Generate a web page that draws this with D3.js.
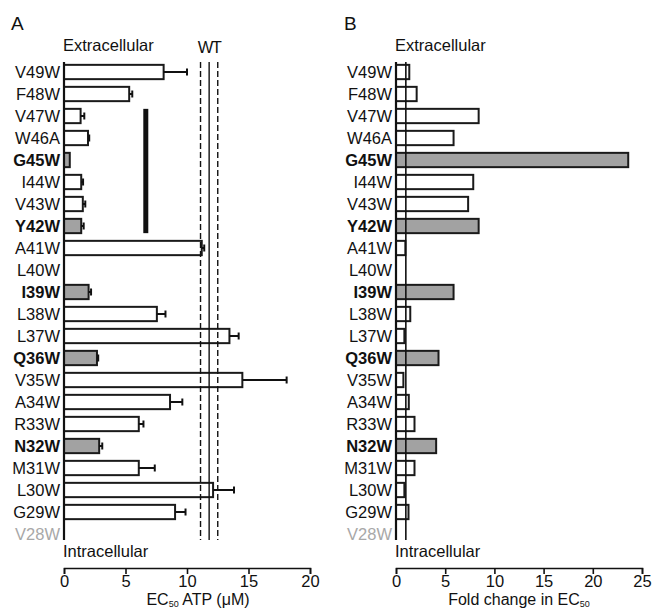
<!DOCTYPE html>
<html lang="en">

<head>
    <meta charset="utf-8">
    <title>tryptophan scan</title>
    <script src="https://cdn.jsdelivr.net/npm/d3@7"></script>
    <style>
        body {
            margin: 0;
            background: #fff;
        }

        svg text {
            font-family: "Liberation Sans", Arial, sans-serif;
            fill: #111;
        }

        .axis path,
        .axis line {
            stroke: #111;
            stroke-width: 1.6;
        }

        .axis text {
            font-size: 16.5px;
            font-family: "Liberation Sans", Arial, sans-serif;
        }
    </style>
</head>

<body>
    <div id="chart"></div>
    <script>
        // residues, top (extracellular) to bottom (intracellular)
        var residues = ["V49W", "F48W", "V47W", "W46A", "G45W", "I44W", "V43W", "Y42W", "A41W", "L40W", "I39W",
            "L38W", "L37W", "Q36W", "V35W", "A34W", "R33W", "N32W", "M31W", "L30W", "G29W", "V28W"];
        // EC50 ATP (uM), null = no response
        var ec50 = [8.1, 5.3, 1.35, 1.95, 0.47, 1.4, 1.53, 1.4, 11.2, null, 2.0,
            7.55, 13.45, 2.68, 14.5, 8.62, 6.08, 2.86, 6.08, 12.12, 9.03, null];
        var ec50Err = [1.9, 0.25, 0.3, 0.1, 0, 0.15, 0.2, 0.2, 0.2, null, 0.2,
            0.7, 0.75, 0.1, 3.6, 1.0, 0.38, 0.25, 1.3, 1.7, 0.85, null];
        // fold change in EC50
        var foldChange = [1.35, 2.1, 8.4, 5.85, 23.6, 7.85, 7.33, 8.4, 0.95, null, 5.85,
            1.45, 0.85, 4.32, 0.75, 1.3, 1.88, 4.08, 1.88, 0.85, 1.27, null];
        var highlighted = ["G45W", "Y42W", "I39W", "Q36W", "N32W"];
        var notFunctional = ["V28W"];
        var helixSpan = ["V47W", "Y42W"];
        var helixAt = 6.65;
        var wt = 11.8, wtErr = 0.7;
        var ticksA = [0, 5, 10, 15, 20];
        var ticksB = [0, 5, 10, 15, 20, 25];

        var width = 653, height = 610;
        var yTop = 62, yBottom = 540, axisY = 568;

        var svg = d3.select('#chart').append('svg')
            .attr('width', width)
            .attr('height', height);

        var y = d3.scaleBand()
            .domain(residues)
            .range([61, 545])
            .paddingInner(0.35)
            .paddingOuter(0.175);

        var xA = d3.scaleLinear().domain([0, 20]).range([64, 310]);
        var xB = d3.scaleLinear().domain([0, 25]).range([396, 642]);

        function fillOf(r) {
            return highlighted.indexOf(r) >= 0 ? '#a2a2a2' : '#fff';
        }

        function labels(g, x) {
            g.selectAll('text.res').data(residues).enter()
                .append('text')
                .attr('class', 'res')
                .attr('x', x)
                .attr('y', d => y(d) + y.bandwidth() / 2)
                .attr('dy', '0.36em')
                .attr('text-anchor', 'end')
                .style('font-size', '16.5px')
                .style('font-weight', d => highlighted.indexOf(d) >= 0 ? 'bold' : 'normal')
                .style('fill', d => notFunctional.indexOf(d) >= 0 ? '#a8a8a8' : '#111')
                .text(d => d);
        }

        function bars(g, x, vals) {
            g.selectAll('rect.bar').data(residues.filter((d, i) => vals[i] != null)).enter()
                .append('rect')
                .attr('class', 'bar')
                .attr('x', x(0))
                .attr('y', d => y(d))
                .attr('width', d => x(vals[residues.indexOf(d)]) - x(0))
                .attr('height', y.bandwidth())
                .attr('fill', fillOf)
                .attr('stroke', '#1a1a1a')
                .attr('stroke-width', 2);
        }

        function frame(g, x, ticks) {
            g.append('line')
                .attr('x1', x(0)).attr('x2', x(0))
                .attr('y1', yTop).attr('y2', yBottom)
                .attr('stroke', '#111').attr('stroke-width', 2.2);

            g.append('text').attr('x', x(0) - 1).attr('y', 51)
                .style('font-size', '16.5px').text('Extracellular');
            g.append('text').attr('x', x(0) - 1).attr('y', 557)
                .style('font-size', '16.5px').text('Intracellular');

            g.append('g')
                .attr('class', 'axis')
                .attr('transform', `translate(0,${axisY})`)
                .call(d3.axisBottom(x).tickValues(ticks).tickSize(6).tickSizeOuter(6).tickPadding(1));
        }

        // panel A
        var gA = svg.append('g');
        gA.append('text').attr('x', 11).attr('y', 30).style('font-size', '19px').text('A');
        labels(gA, 60);
        bars(gA, xA, ec50);

        // error bars
        var withErr = residues.filter((d, i) => ec50[i] != null && ec50Err[i] > 0);
        gA.selectAll('line.err').data(withErr).enter()
            .append('line')
            .attr('class', 'err')
            .attr('x1', d => xA(ec50[residues.indexOf(d)]))
            .attr('x2', d => xA(ec50[residues.indexOf(d)] + ec50Err[residues.indexOf(d)]))
            .attr('y1', d => y(d) + y.bandwidth() / 2)
            .attr('y2', d => y(d) + y.bandwidth() / 2)
            .attr('stroke', '#111').attr('stroke-width', 2);
        gA.selectAll('line.cap').data(withErr).enter()
            .append('line')
            .attr('class', 'cap')
            .attr('x1', d => xA(ec50[residues.indexOf(d)] + ec50Err[residues.indexOf(d)]))
            .attr('x2', d => xA(ec50[residues.indexOf(d)] + ec50Err[residues.indexOf(d)]))
            .attr('y1', d => y(d) + y.bandwidth() / 2 - 3.5)
            .attr('y2', d => y(d) + y.bandwidth() / 2 + 3.5)
            .attr('stroke', '#111').attr('stroke-width', 2);

        // wild type mean +/- sem
        [wt - wtErr, wt, wt + wtErr].forEach((v, i) => {
            gA.append('line')
                .attr('x1', xA(v)).attr('x2', xA(v))
                .attr('y1', yTop).attr('y2', yBottom)
                .attr('stroke', '#111')
                .attr('stroke-width', 1.4)
                .attr('stroke-dasharray', i == 1 ? null : '6,3');
        });
        gA.append('text').attr('x', xA(wt)).attr('y', 53)
            .attr('text-anchor', 'middle')
            .style('font-size', '16.5px').style('letter-spacing', '-1.5px')
            .text('WT');

        // helix marker
        gA.append('rect')
            .attr('x', xA(helixAt) - 2.5)
            .attr('y', y(helixSpan[0]))
            .attr('width', 5)
            .attr('height', y(helixSpan[1]) + y.bandwidth() - y(helixSpan[0]))
            .attr('fill', '#111');

        frame(gA, xA, ticksA);

        var tA = gA.append('text').attr('x', (xA(0) + xA(20)) / 2 + 11).attr('y', 605)
            .attr('text-anchor', 'middle').style('font-size', '16px');
        tA.append('tspan').text('EC');
        tA.append('tspan').attr('dy', 2).style('font-size', '9px').text('50');
        tA.append('tspan').attr('dy', -2).text(' ATP (\u03bcM)');

        // panel B
        var gB = svg.append('g');
        gB.append('text').attr('x', 344).attr('y', 30).style('font-size', '19px').text('B');
        labels(gB, 392);
        bars(gB, xB, foldChange);

        gB.append('line')
            .attr('x1', xB(1)).attr('x2', xB(1))
            .attr('y1', yTop).attr('y2', yBottom)
            .attr('stroke', '#111').attr('stroke-width', 1.6);

        frame(gB, xB, ticksB);

        var tB = gB.append('text').attr('x', (xB(0) + xB(25)) / 2).attr('y', 605)
            .attr('text-anchor', 'middle').style('font-size', '16px');
        tB.append('tspan').text('Fold change in EC');
        tB.append('tspan').attr('dy', 2).style('font-size', '9px').text('50');
    </script>
</body>

</html>
